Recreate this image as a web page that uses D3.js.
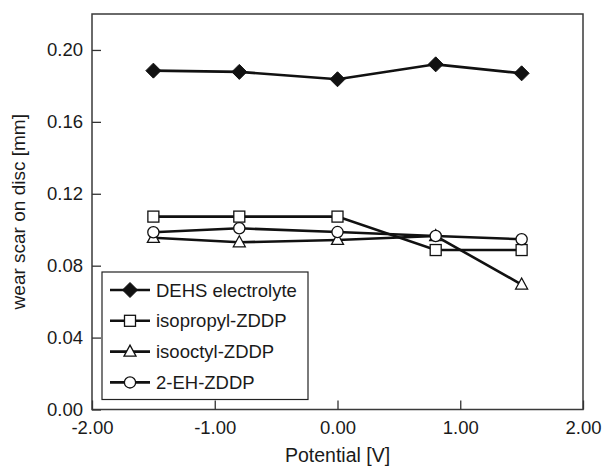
<!DOCTYPE html>
<html>
<head>
<meta charset="utf-8">
<script src="https://cdn.jsdelivr.net/npm/d3@7"></script>
<style>
  body { margin: 0; background: #fff; }
  text { font-family: "Liberation Sans", Arial, sans-serif; fill: #1a1a1a; }
</style>
</head>
<body>
<svg id="chart" width="607" height="468"></svg>
<script>
// potentials where wear scar was measured
const potentials = [-1.5, -0.8, 0.0, 0.8, 1.5];

// wear scar on disc [mm]
const dehs = [0.1885, 0.1878, 0.1837, 0.1920, 0.1870];
const isopropyl = [0.1073, 0.1073, 0.1073, 0.0887, 0.0887];
const isooctyl = [0.0955, 0.0930, 0.0943, 0.0965, 0.0695];
const ehZddp = [0.0986, 0.1008, 0.0987, 0.0965, 0.0947];

const seriesNames = ["DEHS electrolyte", "isopropyl-ZDDP", "isooctyl-ZDDP", "2-EH-ZDDP"];
const seriesValues = [dehs, isopropyl, isooctyl, ehZddp];
const markerKinds = ["diamond", "square", "triangle", "circle"];

const xTicks = [-2, -1, 0, 1, 2];
const yTicks = [0, 0.04, 0.08, 0.12, 0.16, 0.20];

const svg = d3.select("#chart");
const plotL = 92, plotR = 583, plotT = 14, plotB = 409.5;

const x = d3.scaleLinear().domain([-2, 2]).range([plotL, plotR]);
const y = d3.scaleLinear().domain([0, 0.22]).range([plotB, plotT]);

// plain hyphen instead of d3's unicode minus
const fmt = d => d3.format(".2f")(d).replace("\u2212", "-");

// frame around the plot
svg.append("rect")
    .attr("x", plotL).attr("y", plotT)
    .attr("width", plotR - plotL).attr("height", plotB - plotT)
    .attr("fill", "none").attr("stroke", "#3a3a3a").attr("stroke-width", 1.5);

// ticks point inward
const xAxis = svg.append("g")
    .attr("transform", `translate(0,${plotB})`)
    .call(d3.axisBottom(x).tickValues(xTicks).tickSize(-9).tickPadding(11).tickFormat(fmt));
const yAxis = svg.append("g")
    .attr("transform", `translate(${plotL},0)`)
    .call(d3.axisLeft(y).tickValues(yTicks).tickSize(-9).tickPadding(9).tickFormat(fmt));

[xAxis, yAxis].forEach(g => {
    g.select(".domain").remove();
    g.selectAll(".tick line").attr("stroke", "#333").attr("stroke-width", 1.3);
    g.selectAll(".tick text").attr("font-size", 18.5).attr("fill", "#1a1a1a");
});

// axis titles
svg.append("text")
    .attr("x", (plotL + plotR) / 2).attr("y", 462)
    .attr("text-anchor", "middle").attr("font-size", 19.5)
    .text("Potential [V]");
svg.append("text")
    .attr("transform", `translate(25,${(plotT + plotB) / 2}) rotate(-90)`)
    .attr("text-anchor", "middle").attr("font-size", 19)
    .text("wear scar on disc [mm]");

// marker drawing helper
function drawMarker(g, kind, cx, cy) {
    if (kind === "diamond") {
        g.append("path")
            .attr("d", `M${cx},${cy - 7.5}L${cx + 7.5},${cy}L${cx},${cy + 7.5}L${cx - 7.5},${cy}Z`)
            .attr("fill", "#111").attr("stroke", "#111").attr("stroke-width", 1);
    } else if (kind === "square") {
        g.append("rect")
            .attr("x", cx - 5.5).attr("y", cy - 5.5).attr("width", 11).attr("height", 11)
            .attr("fill", "#fff").attr("stroke", "#111").attr("stroke-width", 1.3);
    } else if (kind === "triangle") {
        g.append("path")
            .attr("d", `M${cx},${cy - 6.5}L${cx + 6},${cy + 4.5}L${cx - 6},${cy + 4.5}Z`)
            .attr("fill", "#fff").attr("stroke", "#111").attr("stroke-width", 1.3);
    } else {
        g.append("circle")
            .attr("cx", cx).attr("cy", cy).attr("r", 5.6)
            .attr("fill", "#fff").attr("stroke", "#111").attr("stroke-width", 1.3);
    }
}

const line = d3.line().x(d => x(d[0])).y(d => y(d[1]));

seriesValues.forEach((vals, i) => {
    const pts = potentials.map((p, j) => [p, vals[j]]);
    const g = svg.append("g");
    g.append("path")
        .attr("d", line(pts))
        .attr("fill", "none").attr("stroke", "#111").attr("stroke-width", 2.6);
    pts.forEach(p => drawMarker(g, markerKinds[i], x(p[0]), y(p[1])));
});

// legend
const legend = svg.append("g");
legend.append("rect")
    .attr("x", 102).attr("y", 272).attr("width", 206).attr("height", 127.5)
    .attr("fill", "#fff").attr("stroke", "#222").attr("stroke-width", 1.2);
seriesNames.forEach((name, i) => {
    const ly = 290 + i * 30.8;
    legend.append("line")
        .attr("x1", 110).attr("x2", 150).attr("y1", ly).attr("y2", ly)
        .attr("stroke", "#111").attr("stroke-width", 2.6);
    drawMarker(legend, markerKinds[i], 130, ly);
    legend.append("text")
        .attr("x", 156).attr("y", ly).attr("dy", "0.36em")
        .attr("font-size", 18.5)
        .text(name);
});
</script>
</body>
</html>
